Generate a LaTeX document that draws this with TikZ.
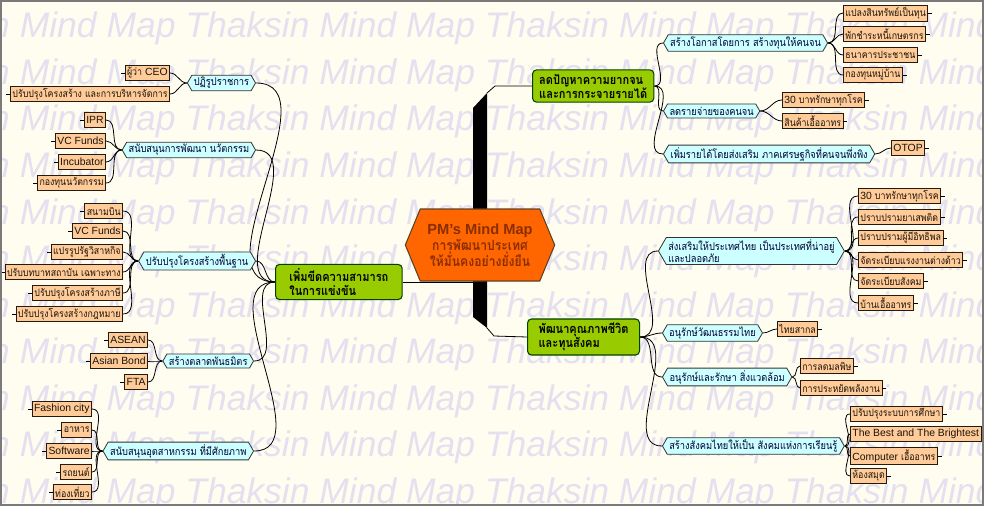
\documentclass[tikz,border=0pt]{standalone}
\usepackage{fontspec}
\setmainfont{Liberation Sans}
\newfontfamily\thai[Script=Thai, FakeStretch=0.87]{Loma}
\usetikzlibrary{shapes.symbols}
\definecolor{mmpaper}{HTML}{FFFDF0}
\definecolor{mmframe}{HTML}{7A7A7A}
\definecolor{mmwater}{HTML}{E4E0F0}
\definecolor{mmleaf}{HTML}{FFCC99}
\definecolor{mmsub}{HTML}{CCFFFF}
\definecolor{mmmain}{HTML}{99CC00}
\definecolor{mmcore}{HTML}{FF6600}
\definecolor{mmcoretext}{HTML}{8A2E00}
\newcommand{\lat}[1]{{\rmfamily\fontsize{7.8}{9}\selectfont #1}}
\pgfdeclarelayer{wmark}
\pgfdeclarelayer{links}
\pgfsetlayers{wmark,links,main}

\begin{document}
\begin{tikzpicture}[x=0.75pt,y=-0.75pt,
  link/.style={line width=0.6pt},
  leaf/.style={draw=black!80!brown, fill=mmleaf, line width=0.6pt, inner sep=1.5pt,
    minimum height=11pt, text=black!85!brown, font=\thai\fontsize{7.6}{9}\selectfont},
  leafL/.style={leaf, anchor=east,
    append after command={(\tikzlastnode.west) edge[draw=black, link] ++(-3pt,0)}},
  leafR/.style={leaf, anchor=west,
    append after command={(\tikzlastnode.east) edge[draw=black, link] ++(3pt,0)}},
  en/.style={font=\rmfamily\fontsize{7.8}{9}\selectfont},
  sub/.style={signal, signal to=west and east, signal pointer angle=120,
    draw=black!80, fill=mmsub, line width=0.6pt, inner sep=1.5pt, minimum height=10.5pt,
    text=black!80!blue, font=\thai\fontsize{8}{9}\selectfont},
  main/.style={draw=black!75!green, fill=mmmain, rounded corners=3pt, line width=0.8pt,
    align=left, inner xsep=5pt, inner ysep=3pt, font=\thai\bfseries\fontsize{9.5}{10.5}\selectfont},
  core/.style={signal, signal to=west and east, signal pointer angle=135,
    draw=brown!50!black, fill=mmcore, line width=0.8pt, minimum width=112pt,
    minimum height=54pt, align=center, text=mmcoretext,
    font=\thai\bfseries\fontsize{10.5}{12}\selectfont},
  wmtext/.style={anchor=base west, inner sep=0pt, text=mmwater,
    font=\rmfamily\itshape\fontsize{26.6}{30}\selectfont}]

\useasboundingbox (0,0) rectangle (984,506);

% background and watermark
\begin{pgfonlayer}{wmark}
  \fill[mmpaper] (0,0) rectangle (984,506);
  \begin{scope}
    \clip (0,0) rectangle (984,506);
    \foreach \r in {0,...,10}
      \node[wmtext] at (-280,38+46.5*\r)
        {Mind Map Thaksin Mind Map Thaksin Mind Map Thaksin Mind Map Thaksin Mind Map Thaksin};
  \end{scope}
\end{pgfonlayer}

% centre
\node[core] (ctr) at (480,245) {{\rmfamily\fontsize{11}{12}\selectfont PM's Mind Map}\\การพัฒนาประเทศ\\ให้มั่นคงอย่างยั่งยืน};

% left half
\node[main, anchor=west, minimum width=95pt] (lmain) at (275,282) {เพิ่มขีดความสามารถ\\ในการแข่งขัน};

\node[sub, anchor=east] (reform) at (256,83) {ปฏิรูปราชการ};
\node[leafL] (reform1) at (170,73) {ผู้ว่า \lat{CEO}};
\node[leafL] (reform2) at (170,94) {ปรับปรุงโครงสร้าง และการบริหารจัดการ};

\node[sub, anchor=east] (innov) at (256,150) {สนับสนุนการพัฒนา นวัตกรรม};
\node[leafL, en] (innov1) at (106,120) {IPR};
\node[leafL, en] (innov2) at (106,141) {VC Funds};
\node[leafL, en] (innov3) at (106,162) {Incubator};
\node[leafL] (innov4) at (106,183) {กองทุนนวัตกรรม};

\node[sub, anchor=east] (infra) at (256,261) {ปรับปรุงโครงสร้างพื้นฐาน};
\node[leafL] (infra1) at (123,211) {สนามบิน};
\node[leafL, en] (infra2) at (123,231) {VC Funds};
\node[leafL] (infra3) at (123,252) {แปรรูปรัฐวิสาหกิจ};
\node[leafL] (infra4) at (123,272) {ปรับบทบาทสถาบัน เฉพาะทาง};
\node[leafL] (infra5) at (123,293) {ปรับปรุงโครงสร้างภาษี};
\node[leafL] (infra6) at (123,314) {ปรับปรุงโครงสร้างกฎหมาย};

\node[sub, anchor=east] (market) at (254,361) {สร้างตลาดพันธมิตร};
\node[leafL, en] (market1) at (148,340) {ASEAN};
\node[leafL, en] (market2) at (148,361) {Asian Bond};
\node[leafL, en] (market3) at (148,382) {FTA};

\node[sub, anchor=east] (indus) at (254,451) {สนับสนุนอุตสาหกรรม ที่มีศักยภาพ};
\node[leafL, en] (indus1) at (92,409) {Fashion city};
\node[leafL] (indus2) at (92,430) {อาหาร};
\node[leafL, en] (indus3) at (92,451) {Software};
\node[leafL] (indus4) at (92,472) {รถยนต์};
\node[leafL] (indus5) at (92,492) {ท่องเที่ยว};

% right half, top
\node[main, anchor=west] (tmain) at (532,86) {ลดปัญหาความยากจน\\และการกระจายรายได้};

\node[sub, anchor=west] (chance) at (663,43) {สร้างโอกาสโดยการ สร้างทุนให้คนจน};
\node[leafR] (chance1) at (843,13) {แปลงสินทรัพย์เป็นทุน};
\node[leafR] (chance2) at (843,34) {พักชำระหนี้เกษตรกร};
\node[leafR] (chance3) at (843,55) {ธนาคารประชาชน};
\node[leafR] (chance4) at (843,75) {กองทุนหมู่บ้าน};

\node[sub, anchor=west] (cost) at (663,111) {ลดรายจ่ายของคนจน};
\node[leafR] (cost1) at (782,100) {\lat{30} บาทรักษาทุกโรค};
\node[leafR] (cost2) at (782,121) {สินค้าเอื้ออาทร};

\node[sub, anchor=west] (income) at (663,154) {เพิ่มรายได้โดยส่งเสริม ภาคเศรษฐกิจที่คนจนพึ่งพิง};
\node[leafR, en] (income1) at (891,148) {OTOP};

% right half, bottom
\node[main, anchor=west, minimum width=84pt] (bmain) at (527,337) {พัฒนาคุณภาพชีวิต\\และทุนสังคม};

\node[sub, anchor=west, align=left] (safe) at (658,251) {ส่งเสริมให้ประเทศไทย เป็นประเทศที่น่าอยู่\\และปลอดภัย};
\node[leafR] (safe1) at (858,196) {\lat{30} บาทรักษาทุกโรค};
\node[leafR] (safe2) at (858,217) {ปราบปรามยาเสพติด};
\node[leafR] (safe3) at (858,238) {ปราบปรามผู้มีอิทธิพล};
\node[leafR] (safe4) at (858,260) {จัดระเบียบแรงงานต่างด้าว};
\node[leafR] (safe5) at (858,281) {จัดระเบียบสังคม};
\node[leafR] (safe6) at (858,303) {บ้านเอื้ออาทร};

\node[sub, anchor=west] (culture) at (662,333) {อนุรักษ์วัฒนธรรมไทย};
\node[leafR] (culture1) at (777,329) {ไทยสากล};

\node[sub, anchor=west] (envir) at (662,377) {อนุรักษ์และรักษา สิ่งแวดล้อม};
\node[leafR] (envir1) at (800,366) {การลดมลพิษ};
\node[leafR] (envir2) at (800,388) {การประหยัดพลังงาน};

\node[sub, anchor=west] (learn) at (662,446) {สร้างสังคมไทยให้เป็น สังคมแห่งการเรียนรู้};
\node[leafR] (learn1) at (850,414) {ปรับปรุงระบบการศึกษา};
\node[leafR, en] (learn2) at (850,434) {The Best and The Brightest};
\node[leafR] (learn3) at (850,456) {\lat{Computer} เอื้ออาทร};
\node[leafR] (learn4) at (850,476) {ห้องสมุด};

% connectors
\begin{pgfonlayer}{links}
  \coordinate (trunkT) at (487,93);
  \coordinate (trunkB) at (487,328);
  \fill[black] (473,245) -- (473,108) -- (trunkT) -- (487,245) -- cycle;
  \fill[black] (473,245) -- (473,317) -- (trunkB) -- (487,245) -- cycle;
  \draw[link] (trunkT) -- ++(8,-7) -- (tmain.west);
  \draw[link] (trunkB) -- ++(7,8) -- (bmain.west);
  \draw[link] (lmain.east) -- (lmain.east -| ctr.center);

  \foreach \s in {reform,innov,infra,market,indus}
    \draw[link] (lmain.west) to[out=180,in=0] (\s.east);
  \foreach \s in {chance,cost,income}
    \draw[link] (tmain.east) to[out=0,in=180] (\s.west);
  \foreach \s in {safe,culture,envir,learn}
    \draw[link] (bmain.east) to[out=0,in=180] (\s.west);

  \foreach \p/\n in {reform/2,innov/4,infra/6,market/3,indus/5}
    \foreach \i in {1,...,\n}
      \draw[link] (\p.west) to[out=180,in=0] (\p\i.east);
  \foreach \p/\n in {chance/4,cost/2,income/1,safe/6,culture/1,envir/2,learn/4}
    \foreach \i in {1,...,\n}
      \draw[link] (\p.east) to[out=0,in=180] (\p\i.west);
\end{pgfonlayer}

\draw[mmframe, line width=3pt] (0,0) rectangle (984,506);
\end{tikzpicture}
\end{document}
